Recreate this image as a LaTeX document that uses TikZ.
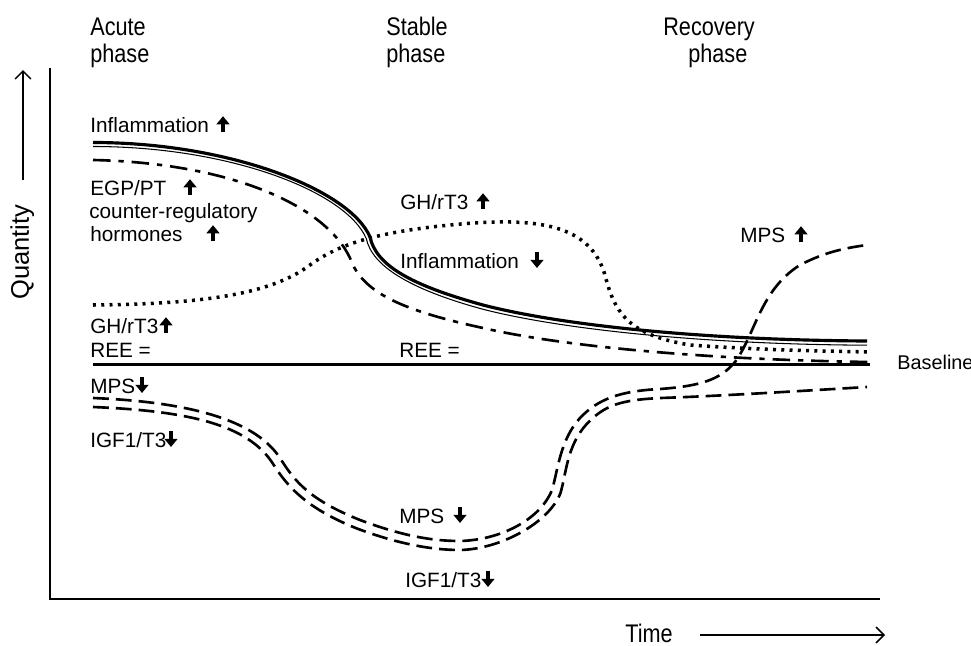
\documentclass[tikz,border=0pt]{standalone}
\usepackage{fontspec}
\setmainfont{Liberation Sans}
\newfontfamily\headfont[FakeStretch=0.85]{Liberation Sans}
\usetikzlibrary{arrows.meta}
\newcommand\myup{\tikz[baseline=0pt]\draw[line width=2.1pt,-{Triangle[width=7.2pt,length=4.6pt]}] (0pt,0pt) -- (0pt,9pt);}
\newcommand\mydown{\tikz[baseline=0pt]\draw[line width=2.1pt,-{Triangle[width=7.2pt,length=4.6pt]}] (0pt,9pt) -- (0pt,0pt);}
\tikzset{
  lab/.style={anchor=base west, inner sep=0pt, font=\fontsize{11.8}{14}\selectfont},
  headlab/.style={anchor=base west, inner sep=0pt, font=\headfont\fontsize{14.5}{17}\selectfont},
  qlab/.style={anchor=base west, inner sep=0pt, font=\fontsize{14.5}{17}\selectfont},
  arw/.style={anchor=base, inner sep=0pt},
  axisline/.style={line width=1.4pt},
  thickinfl/.style={line width=1.8pt},
  thininfl/.style={line width=0.6pt},
  dashdot/.style={line width=1.5pt, dash pattern=on 10pt off 4.5pt on 3pt off 4.5pt},
  dotline/.style={line width=2pt, dash pattern=on 1.7pt off 3pt},
  longdash/.style={line width=1.5pt, dash pattern=on 9pt off 4pt},
  bigarrow/.style={line width=0.9pt, -{Straight Barb[length=4.5pt,width=9pt]}}
}
\begin{document}
\begin{tikzpicture}[x=0.02cm,y=-0.02cm]
\useasboundingbox (0,0) rectangle (971,646);

% headers
\node[headlab] (h1a) at (90,35) {Acute};
\node[headlab] (h1b) at (90,62) {phase};
\node[headlab] (h2a) at (386,35) {Stable};
\node[headlab] (h2b) at (386,62) {phase};
\node[headlab] (h3a) at (663,35) {Recovery};
\node[headlab] (h3b) at (688,62) {phase};

% axes
\coordinate (ytop) at (50,68);
\coordinate (orig) at (50,599);
\coordinate (xend) at (880,599);
\draw[axisline] (ytop) -- (orig) -- (xend);

% quantity arrow
\node[qlab, rotate=90] (qty) at (29,300) {Quantity};
\coordinate (qa0) at (23,180);
\coordinate (qa1) at (23,70);
\draw[bigarrow] (qa0) -- (qa1);

% time arrow
\node[headlab] (time) at (625,642) {Time};
\coordinate (ta0) at (700,635);
\coordinate (ta1) at (885,635);
\draw[bigarrow] (ta0) -- (ta1);

% baseline
\coordinate (b0) at (93,364.5);
\coordinate (b1) at (870,364.5);
\draw[axisline] (b0) -- (b1);
\node[lab, font=\fontsize{11.3}{13}\selectfont] (bl) at (897,369) {Baseline};

% inflammation double line
\draw[thickinfl] (93,142.5) .. controls (230,142.5) and (350,190) .. (370,237)
  .. controls (376,265) and (410,285) .. (483,305)
  .. controls (560,325) and (700,340) .. (867,341);
\draw[thininfl] (93,146.5) .. controls (230,146.5) and (346.3,191.6) .. (366.3,238.6)
  .. controls (372.1,265.8) and (409,289) .. (482,309)
  .. controls (559,329) and (700,344.3) .. (867,345.2);

% EGP/PT dash-dot
\draw[dashdot] (93,160) .. controls (230,163) and (325,205) .. (350,258)
  .. controls (362,292) and (400,310) .. (483,328)
  .. controls (570,348) and (720,360) .. (870,362);

% GH/rT3 dotted
\draw[dotline] (93,305) .. controls (200,304) and (270,295) .. (310,265)
  .. controls (340,243) and (380,232) .. (450,225)
  .. controls (540,216) and (590,225) .. (605,275)
  .. controls (615,315) and (630,335) .. (690,345)
  .. controls (760,350) and (820,351) .. (870,352);

% MPS (upper dashed)
\draw[longdash] (93,398) .. controls (190,402) and (255,420) .. (280,458)
  .. controls (295,482) and (310,500) .. (360,520)
  .. controls (400,535) and (430,541) .. (460,541)
  .. controls (500,540) and (540,520) .. (552,490)
  .. controls (558,470) and (560,440) .. (580,418)
  .. controls (598,399) and (620,391) .. (660,389)
  .. controls (700,386) and (720,380) .. (735,362)
  .. controls (755,335) and (760,290) .. (800,265)
  .. controls (825,252) and (845,248) .. (867,245);

% IGF1/T3 (lower dashed)
\draw[longdash] (93,407) .. controls (190,411) and (247.5,425) .. (272.5,463)
  .. controls (287.5,487) and (306.7,508.4) .. (356.7,528.4)
  .. controls (396.7,543.4) and (430.3,550) .. (460.3,550)
  .. controls (500.3,549) and (548.4,523.3) .. (560.4,493.3)
  .. controls (566.4,473.3) and (566.7,446) .. (586.7,424)
  .. controls (604.7,405) and (620.5,400) .. (660.5,398)
  .. controls (720,396) and (800,391) .. (867,387);

% left labels
\node[lab] (l1) at (90,132) {Inflammation};
\node[arw] (l1a) at (223,132) {\myup};
\node[lab] (l2) at (90,195) {EGP/PT};
\node[arw] (l2a) at (190,195) {\myup};
\node[lab] (l3) at (89,218) {counter-regulatory};
\node[lab] (l4) at (90,241) {hormones};
\node[arw] (l4a) at (213,241) {\myup};
\node[lab] (l5) at (90,333) {GH/rT3};
\node[arw] (l5a) at (166,333) {\myup};
\node[lab] (l6) at (90,357) {REE =};
\node[lab] (l7) at (90,393) {MPS};
\node[arw] (l7a) at (142,393) {\mydown};
\node[lab] (l8) at (90,447) {IGF1/T3};
\node[arw] (l8a) at (171,447) {\mydown};

% middle labels
\node[lab] (m1) at (400,209) {GH/rT3};
\node[arw] (m1a) at (483,209) {\myup};
\node[lab] (m2) at (400,268) {Inflammation};
\node[arw] (m2a) at (537,268) {\mydown};
\node[lab] (m3) at (399,357) {REE =};
\node[lab] (m4) at (399,523) {MPS};
\node[arw] (m4a) at (460,523) {\mydown};
\node[lab] (m5) at (405,587) {IGF1/T3};
\node[arw] (m5a) at (488,587) {\mydown};

% right label
\node[lab] (r1) at (740,242) {MPS};
\node[arw] (r1a) at (801,242) {\myup};
\end{tikzpicture}
\end{document}
